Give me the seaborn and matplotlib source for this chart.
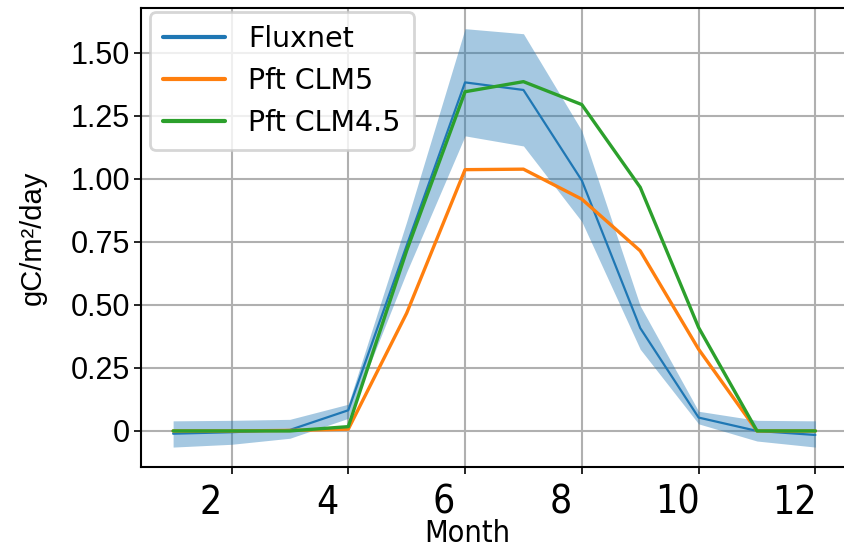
import numpy as np
import pandas as pd
import matplotlib
matplotlib.use("Agg")
import matplotlib.pyplot as plt
import matplotlib.transforms as mtransforms
from matplotlib.lines import Line2D
import seaborn as sns

# ---- data ----
months = [1, 2, 3, 4, 5, 6, 7, 8, 9, 10, 11, 12]
fluxnet = [-0.011, -0.005, 0.004, 0.082, 0.735, 1.382, 1.352, 0.993, 0.408, 0.053, 0.0, -0.016]
fluxnet_lo = [-0.064, -0.053, -0.029, 0.050, 0.630, 1.170, 1.130, 0.830, 0.324, 0.028, -0.040, -0.064]
fluxnet_hi = [0.040, 0.042, 0.046, 0.106, 0.830, 1.595, 1.575, 1.190, 0.496, 0.078, 0.042, 0.040]
pft_clm5 = [0.0, 0.0, 0.002, 0.007, 0.467, 1.036, 1.038, 0.919, 0.714, 0.324, 0.0, 0.0]
pft_clm45 = [0.0, 0.0, 0.0, 0.017, 0.715, 1.345, 1.385, 1.294, 0.966, 0.410, 0.0, 0.0]
series_names = ["Fluxnet", "Pft CLM5", "Pft CLM4.5"]
x_ticks = [2, 4, 6, 8, 10, 12]
y_ticks = [0, 0.25, 0.50, 0.75, 1.00, 1.25, 1.50]
y_ticklabels = ["0", "0.25", "0.50", "0.75", "1.00", "1.25", "1.50"]

df = pd.DataFrame({
    "Month": months * 3,
    "value": fluxnet + pft_clm5 + pft_clm45,
    "series": [series_names[0]] * 12 + [series_names[1]] * 12 + [series_names[2]] * 12,
})

sns.set_style("ticks")
plt.rcParams["font.family"] = ["DejaVu Sans"]

W, H = 844, 557
fig = plt.figure(figsize=(W / 100, H / 100), dpi=100)
ax_left, ax_right, ax_top, ax_bot = 141, 847.5, 8, 467
ax = fig.add_axes([ax_left / W, 1 - ax_bot / H, (ax_right - ax_left) / W, (ax_bot - ax_top) / H])

palette = {"Fluxnet": "#1f77b4", "Pft CLM5": "#ff7f0e", "Pft CLM4.5": "#2ca02c"}

ax.fill_between(months, fluxnet_lo, fluxnet_hi, color="#1f77b4", alpha=0.4, linewidth=0, zorder=1)
sns.lineplot(data=df, x="Month", y="value", hue="series", palette=palette,
             hue_order=series_names, ax=ax, legend=False, zorder=3)
lws = [1.6, 2.4, 2.4]
for line, lw in zip(ax.get_lines(), lws):
    line.set_linewidth(lw)

ax.set_xlim(0.45, 12.55)
ax.set_ylim(-0.143, 1.677)

ax.grid(True, color="#b0b0b0", linewidth=1.5)
ax.set_axisbelow(True)

for side in ["left", "bottom", "top", "right"]:
    ax.spines[side].set_color("black")
    ax.spines[side].set_linewidth(1.5)

ax.set_xticks(x_ticks)
ax.set_xticklabels([str(t) for t in x_ticks])
ax.set_yticks(y_ticks)
ax.set_yticklabels(y_ticklabels)

ax.tick_params(axis="both", direction="out", length=5, width=1.2, color="black")
ax.tick_params(axis="x", pad=7)
ax.tick_params(axis="y", pad=3)

for lab in ax.get_xticklabels():
    lab.set_fontfamily("DejaVu Sans")
    lab.set_fontstretch("condensed")
    lab.set_fontsize(28)
    lab.set_color("black")
shift = mtransforms.ScaledTranslation(-21 / 100, 0, fig.dpi_scale_trans)
for tick in ax.xaxis.get_major_ticks():
    tick.label1.set_transform(tick.label1.get_transform() + shift)

for lab in ax.get_yticklabels():
    lab.set_fontfamily("Liberation Sans")
    lab.set_fontsize(22)
    lab.set_color("black")

ax.set_xlabel("Month", fontfamily="DejaVu Sans", fontstretch="condensed", fontsize=22, color="black")
ax.xaxis.set_label_coords((467 - ax_left) / (ax_right - ax_left), (ax_bot - 519) / (ax_bot - ax_top))
ax.set_ylabel("gC/m²/day", fontfamily="Liberation Sans", fontsize=21, color="black")
ax.yaxis.set_label_coords((47 - ax_left) / (ax_right - ax_left), (ax_bot - 238) / (ax_bot - ax_top))

handles = [Line2D([0], [0], color=palette[n], linewidth=3) for n in series_names]
leg = ax.legend(handles, series_names, loc="upper left",
                bbox_to_anchor=(150 / W, 1 - 12 / H), bbox_transform=fig.transFigure,
                borderaxespad=0, prop={"family": "DejaVu Sans", "size": 20.5},
                handlelength=2.2, handletextpad=0.8, borderpad=0.45, labelspacing=0.5,
                frameon=True, framealpha=0.8, fancybox=True)
leg.get_frame().set_edgecolor("#cccccc")
leg.get_frame().set_linewidth(2)
for t in leg.get_texts():
    t.set_color("black")

fig.savefig("out.png", dpi=100)
